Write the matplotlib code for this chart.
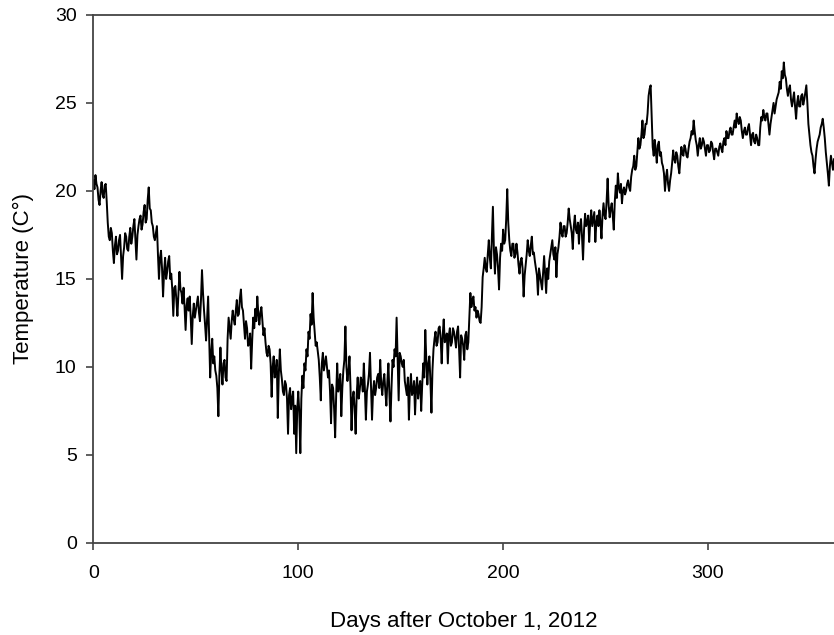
"""Water temperature record, Oct 2012 - Sep 2013 (redrawn from figure)."""

import matplotlib

matplotlib.use("Agg")
import matplotlib.pyplot as plt

# morning reading per day (day 0 = Oct 1, 2012)
temp_am = [
    20.6, 20.9, 20.2, 19.2, 20.5, 19.6, 20.4, 18.2, 17.2, 17.6,
    15.9, 17.4, 16.6, 17.5, 15.0, 16.8, 17.4, 16.6, 17.9, 17.4,
    18.4, 16.1, 18.0, 18.6, 18.1, 19.2, 18.4, 20.2, 18.9, 18.0,
    17.2, 18.0, 15.0, 16.6, 14.0, 16.2, 15.4, 16.3, 15.3, 12.9,
    14.6, 12.9, 15.4, 14.2, 14.5, 12.1, 13.9, 14.0, 11.3, 13.6,
    13.2, 14.0, 12.6, 15.5, 13.2, 11.5, 14.0, 9.4, 11.6, 10.6,
    9.5, 7.2, 11.1, 9.0, 10.4, 9.2, 12.8, 11.6, 13.2, 12.4,
    13.8, 13.0, 14.4, 13.2, 11.6, 12.2, 11.3, 9.9, 12.8, 13.3,
    14.0, 12.4, 13.4, 11.8, 11.4, 10.6, 11.0, 8.3, 10.6, 9.8,
    7.1, 11.0, 9.3, 8.4, 9.0, 6.2, 8.8, 8.2, 6.2, 5.1,
    8.6, 5.1, 9.5, 10.2, 11.0, 12.0, 13.0, 14.2, 12.0, 11.4,
    10.4, 8.1, 10.8, 10.2, 10.0, 9.8, 6.8, 8.8, 6.0, 10.2,
    9.0, 7.2, 9.8, 12.3, 9.2, 10.6, 6.4, 8.6, 6.2, 9.4,
    8.7, 9.2, 10.2, 7.0, 9.0, 10.8, 7.0, 9.2, 8.8, 9.6,
    10.4, 8.4, 9.6, 7.8, 10.2, 6.9, 10.4, 11.0, 12.8, 8.1,
    10.6, 10.0, 9.2, 8.4, 7.0, 9.6, 8.6, 7.3, 9.4, 8.8,
    7.5, 10.2, 12.1, 9.0, 10.6, 7.4, 11.0, 12.0, 11.4, 12.3,
    10.2, 12.7, 11.6, 10.2, 12.2, 11.4, 12.0, 11.1, 12.3, 9.4,
    11.6, 10.4, 12.0, 11.4, 14.2, 13.8, 13.2, 12.8, 13.0, 12.5,
    15.1, 16.2, 15.4, 17.2, 15.6, 19.1, 15.3, 16.4, 14.4, 17.0,
    17.8, 17.2, 20.1, 17.2, 16.3, 17.0, 16.4, 16.5, 15.3, 16.2,
    14.0, 15.8, 17.2, 16.3, 17.4, 16.5, 15.6, 14.1, 15.2, 14.4,
    16.3, 14.2, 15.0, 16.4, 17.2, 16.1, 15.1, 16.8, 18.2, 17.4,
    18.0, 17.6, 19.0, 18.0, 16.7, 18.6, 17.6, 17.0, 18.4, 16.1,
    18.7, 18.2, 17.1, 18.9, 18.4, 17.1, 18.6, 18.9, 17.3, 19.3,
    18.4, 20.7, 18.5, 19.3, 17.8, 20.3, 21.0, 19.9, 19.3, 20.2,
    20.0, 20.6, 20.0, 21.2, 22.0, 21.4, 23.0, 22.6, 24.0, 23.2,
    23.8, 25.4, 26.0, 22.5, 22.9, 21.6, 22.8, 22.2, 21.4, 20.0,
    21.2, 20.0, 21.0, 22.3, 21.6, 22.0, 21.0, 22.5, 22.0, 22.4,
    21.9, 22.8, 23.4, 24.0, 22.9, 22.0, 23.0, 22.6, 22.8, 22.0,
    22.6, 22.3, 22.7, 21.8, 22.4, 22.0, 22.7, 22.2, 23.0, 23.4,
    23.0, 23.6, 23.2, 24.0, 24.4, 23.8, 24.0, 23.0, 23.6, 23.2,
    23.8, 22.6, 23.3, 22.7, 23.0, 22.6, 24.2, 24.6, 24.0, 24.4,
    23.2, 24.2, 25.0, 24.8, 25.4, 26.2, 26.8, 27.3, 26.4, 25.4,
    26.0, 24.8, 25.6, 24.1, 25.4, 24.8, 25.5, 25.2, 26.0, 23.8,
    22.6, 22.0, 21.0, 22.4, 23.0, 23.6, 24.1, 23.0, 21.6, 20.3,
    22.0, 21.2,
]

# afternoon reading per day (the other edge of the daily band)
temp_pm = [
    20.1, 20.4, 19.5, 20.0, 19.8, 20.3, 19.4, 17.4, 17.9, 16.6,
    16.9, 16.4, 17.2, 16.2, 16.3, 17.6, 16.7, 17.4, 17.0, 18.0,
    17.3, 17.5, 18.4, 17.8, 18.8, 18.2, 19.5, 19.0, 18.2, 17.4,
    17.6, 16.4, 16.2, 15.6, 15.4, 15.0, 16.0, 15.0, 14.4, 14.5,
    13.8, 14.2, 14.4, 13.6, 13.4, 13.5, 13.2, 12.8, 12.9, 12.8,
    13.6, 13.1, 13.8, 14.2, 12.4, 12.8, 11.6, 10.8, 10.2, 9.8,
    8.8, 9.6, 9.8, 10.2, 9.4, 11.6, 12.2, 12.6, 12.7, 13.2,
    12.9, 13.9, 13.4, 12.4, 12.6, 11.2, 11.9, 11.5, 12.2, 12.6,
    13.0, 13.1, 12.6, 12.2, 10.8, 11.2, 10.2, 10.0, 9.4, 10.4,
    9.6, 9.8, 8.6, 9.2, 8.2, 8.4, 7.6, 8.6, 7.8, 7.6,
    7.4, 8.2, 8.8, 9.8, 10.6, 11.6, 12.4, 12.8, 11.2, 10.9,
    9.4, 10.2, 9.8, 10.6, 9.4, 8.6, 9.0, 7.6, 8.4, 8.6,
    9.6, 8.8, 10.4, 10.0, 9.8, 8.8, 8.2, 7.6, 8.4, 8.2,
    9.4, 8.6, 8.8, 8.6, 9.6, 8.8, 8.6, 8.4, 9.4, 8.8,
    9.0, 9.2, 8.6, 9.2, 8.4, 8.8, 10.0, 10.6, 10.4, 10.8,
    10.2, 10.4, 8.8, 9.4, 8.8, 8.4, 9.2, 8.8, 8.2, 9.2,
    9.0, 9.4, 10.4, 10.2, 9.2, 9.8, 11.6, 11.2, 12.2, 11.6,
    11.8, 11.4, 11.9, 11.8, 11.2, 12.2, 11.6, 12.0, 11.0, 11.8,
    11.2, 11.8, 11.0, 12.8, 13.4, 14.0, 13.4, 13.2, 12.6, 13.4,
    15.6, 15.6, 16.4, 16.2, 17.4, 16.6, 16.8, 15.6, 16.2, 16.6,
    17.0, 18.4, 18.2, 16.6, 17.0, 16.2, 17.0, 15.8, 16.0, 15.6,
    15.2, 16.4, 16.6, 16.9, 16.4, 16.0, 15.2, 15.6, 14.8, 15.4,
    15.2, 15.6, 16.0, 16.8, 16.4, 16.8, 16.4, 17.4, 17.6, 18.0,
    17.4, 18.2, 18.4, 17.6, 18.0, 17.8, 18.2, 18.0, 17.4, 17.8,
    18.0, 18.6, 18.2, 18.0, 18.8, 18.2, 18.0, 18.2, 18.6, 18.6,
    19.4, 19.2, 19.0, 18.6, 19.4, 19.6, 20.2, 20.4, 20.0, 19.8,
    20.4, 20.2, 20.8, 21.4, 21.2, 22.2, 22.4, 23.2, 23.0, 23.8,
    24.4, 25.8, 24.2, 22.0, 22.3, 22.6, 22.0, 21.6, 21.0, 20.8,
    20.4, 20.6, 21.6, 21.8, 22.2, 21.4, 21.8, 22.1, 22.6, 22.0,
    22.4, 23.0, 23.2, 23.4, 22.6, 22.6, 22.4, 23.0, 22.4, 22.6,
    22.2, 22.8, 22.2, 22.4, 22.2, 22.5, 22.4, 22.8, 22.6, 23.0,
    23.4, 23.2, 23.6, 23.6, 24.0, 24.2, 23.4, 23.4, 23.2, 23.6,
    23.2, 23.2, 22.8, 23.2, 22.6, 23.6, 24.0, 24.2, 24.4, 23.8,
    23.8, 24.6, 24.4, 25.2, 25.6, 25.8, 26.4, 26.6, 25.8, 25.8,
    25.2, 25.2, 24.8, 25.0, 24.8, 25.4, 24.9, 25.6, 25.0, 23.2,
    22.2, 21.4, 21.8, 22.8, 23.2, 23.8, 23.6, 22.2, 21.0, 21.4,
    21.6, 21.8,
]

x_ticks = [0, 100, 200, 300]
y_ticks = [0, 5, 10, 15, 20, 25, 30]

# interleave the two daily readings into one time series
days, temp = [], []
for d, (am, pm) in enumerate(zip(temp_am, temp_pm)):
    days += [d, d + 0.5]
    temp += [am, pm]

plt.rcParams["font.family"] = ["Liberation Sans", "DejaVu Sans"]

fig = plt.figure(figsize=(8.34, 6.35), dpi=100)
ax = fig.add_axes([0.112, 0.145, 0.888, 0.8315])
ax.plot(days, temp, color="black", linewidth=1.4)

ax.set_xlim(0, 361.5)
ax.set_ylim(0, 30)
ax.set_xticks(x_ticks)
ax.set_yticks(y_ticks)
ax.spines["right"].set_visible(False)
for side in ("left", "bottom", "top"):
    ax.spines[side].set_color("#444444")
    ax.spines[side].set_linewidth(1.3)
ax.tick_params(axis="both", direction="out", length=5, width=1.2,
               color="#444444", labelsize=14)
ax.tick_params(axis="x", pad=11)
ax.tick_params(axis="y", pad=7)

ax.set_xlabel("Days after October 1, 2012", fontsize=16, labelpad=21)
ax.set_ylabel("Temperature (C°)", fontsize=16, labelpad=15)

fig.savefig("out.png", dpi=100)
plt.close(fig)
